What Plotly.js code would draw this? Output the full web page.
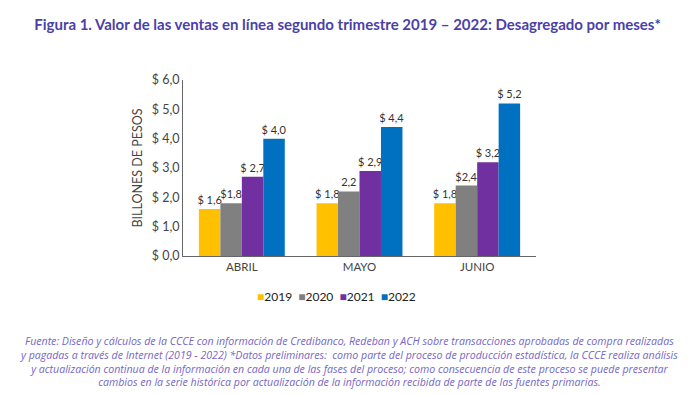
<!DOCTYPE html>
<html><head><meta charset="utf-8">
<script src="https://cdn.plot.ly/plotly-3.0.1.min.js"></script>
<style>html,body{margin:0;padding:0;background:#fff}#chart{width:695px;height:394px}</style>
</head><body><div id="chart"></div>
<script>
const months = ["ABRIL", "MAYO", "JUNIO"];
const years = ["2019", "2020", "2021", "2022"];
const v2019 = [1.6, 1.8, 1.8];
const v2020 = [1.8, 2.2, 2.4];
const v2021 = [2.7, 2.9, 3.2];
const v2022 = [4.0, 4.4, 5.2];
const t2019 = ["$ 1,6", "$ 1,8", "$ 1,8"];
const t2020 = ["$1,8", "2,2", "$2,4"];
const t2021 = ["$ 2,7", "$ 2,9", "$ 3,2"];
const t2022 = ["$ 4,0", "$ 4,4", "$ 5,2"];
const yTickVals = [0, 1, 2, 3, 4, 5, 6];
const yTickText = ["$ 0,0", "$ 1,0", "$ 2,0", "$ 3,0", "$ 4,0", "$ 5,0", "$ 6,0"];
const colors = ["#FFC000", "#808080", "#7030A0", "#0070C0"];
const values = [v2019, v2020, v2021, v2022];
const texts = [t2019, t2020, t2021, t2022];

const FONT = "Lato, 'Open Sans', sans-serif";
const traces = years.map((y, i) => ({
  type: "bar", name: y, x: months, y: values[i],
  text: texts[i], textposition: "outside", cliponaxis: false,
  constraintext: "none",
  texttemplate: "%{text}",
  textfont: {family: FONT, size: 11, color: "#333"},
  marker: {color: colors[i]},
  hoverinfo: "none", showlegend: false
}));

const legendText = years.map((y, i) =>
  `<span style="color:${colors[i]}">■</span>${y}`).join("  ");

const layout = {
  width: 695, height: 394,
  margin: {l: 183, r: 159, t: 80, b: 138},
  paper_bgcolor: "#fff", plot_bgcolor: "#fff",
  font: {family: FONT, color: "#333"},
  showlegend: false,
  title: {text: "<b>Figura 1. Valor de las ventas en línea segundo trimestre 2019 – 2022: Desagregado por meses*</b>",
    font: {family: FONT, size: 15, color: "#4B3FA8"}, x: 0.5, xanchor: "center", y: 1 - 25/394, yanchor: "middle"},
  barmode: "group", bargap: 0.27, bargroupgap: 0,
  xaxis: {range: [-0.5, 2.5], showline: true, linecolor: "#666", linewidth: 1, ticks: "",
    tickfont: {family: FONT, size: 11.5, color: "#444"}, showgrid: false, zeroline: false},
  yaxis: {range: [0, 6], tickvals: yTickVals, ticktext: yTickText, showline: true, linecolor: "#666",
    linewidth: 1, showgrid: false, zeroline: false, ticks: "", ticklen: 0,
    tickfont: {family: FONT, size: 12.5, color: "#444"},
    title: {text: "BILLONES DE PESOS", font: {family: FONT, size: 12.5, color: "#444"}, standoff: 6}},
  annotations: [{
    xref: "paper", yref: "paper", x: (336-183)/353, y: (256-296)/176, xanchor: "center", yanchor: "middle",
    showarrow: false, text: legendText, font: {family: FONT, size: 12, color: "#222"}
  }, {
    xref: "paper", yref: "paper", x: (348-183)/353, y: (256-332)/176, xanchor: "center", yanchor: "top",
    showarrow: false, align: "center",
    text: "<i>Fuente: Diseño y cálculos de la CCCE con información de Credibanco, Redeban y ACH sobre transacciones aprobadas de compra realizadas<br>y pagadas a través de Internet (2019 - 2022) *Datos preliminares:  como parte del proceso de producción estadística, la CCCE realiza análisis<br>y actualización continua de la información en cada una de las fases del proceso; como consecuencia de este proceso se puede presentar<br>cambios en la serie histórica por actualización de la información recibida de parte de las fuentes primarias.</i>",
    font: {family: "'Open Sans', Lato, sans-serif", size: 10.6, color: "#7466C8"}
  }]
};
Plotly.newPlot("chart", traces, layout, {displayModeBar: false, staticPlot: true});
</script></body></html>
